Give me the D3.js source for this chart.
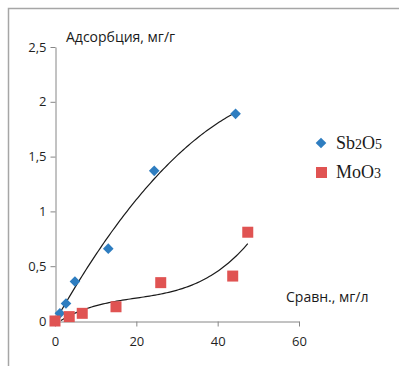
<!DOCTYPE html>
<html>
<head>
<meta charset="utf-8">
<script src="https://cdn.jsdelivr.net/npm/d3@7"></script>
<style>
  body { margin: 0; background: #fff; }
  svg { display: block; }
</style>
</head>
<body>
<div id="wrapper"></div>
<script>
const sbX = [0, 1.2, 2.7, 4.9, 13.1, 24.4, 44.4]
const sbY = [0, 0.07, 0.16, 0.36, 0.66, 1.37, 1.89]
const moX = [0, 3.5, 6.7, 15, 26, 43.7, 47.4]
const moY = [0, 0.04, 0.07, 0.13, 0.35, 0.41, 0.81]
const xTicks = [0, 20, 40, 60]
const yTicks = [0, 0.5, 1, 1.5, 2, 2.5]

const width = 399
const height = 366

// least squares polynomial, like an Excel trendline
function polyfit(xs, ys, order) {
    const n = order + 1
    const A = []
    for (let i = 0; i < n; i++) {
        A.push([])
        for (let j = 0; j <= n; j++) A[i].push(0)
    }
    xs.forEach((x, k) => {
        for (let i = 0; i < n; i++) {
            for (let j = 0; j < n; j++) A[i][j] += Math.pow(x, i + j)
            A[i][n] += ys[k] * Math.pow(x, i)
        }
    })
    for (let i = 0; i < n; i++) {
        let p = i
        for (let r = i + 1; r < n; r++) if (Math.abs(A[r][i]) > Math.abs(A[p][i])) p = r
        const t = A[i]; A[i] = A[p]; A[p] = t
        for (let r = 0; r < n; r++) {
            if (r === i) continue
            const f = A[r][i] / A[i][i]
            for (let c = i; c <= n; c++) A[r][c] -= f * A[i][c]
        }
    }
    const coef = A.map((row, i) => row[n] / row[i])
    return x => coef.reduce((s, c, i) => s + c * Math.pow(x, i), 0)
}

const svg = d3.select("#wrapper").append("svg").attr("width", width).attr("height", height)

// outer frame (only top and left visible)
svg.append("path")
    .attr("d", `M8.5,${height} L8.5,8.5 L${width},8.5`)
    .attr("fill", "none")
    .attr("stroke", "#a6a6a6")
    .attr("stroke-width", 1.5)

const x = d3.scaleLinear().domain([0, 60]).range([55, 299])
const y = d3.scaleLinear().domain([0, 2.5]).range([321, 47])

const axisColor = "#868686"
const font = "'Open Sans', sans-serif"

const yAxis = svg.append("g")
    .attr("transform", "translate(55.5,0)")
    .call(d3.axisLeft(y).tickValues(yTicks).tickSize(5).tickSizeOuter(0)
        .tickFormat(d => String(d).replace(".", ",")))
const xAxis = svg.append("g")
    .attr("transform", "translate(0,321.5)")
    .call(d3.axisBottom(x).tickValues(xTicks).tickSize(5).tickSizeOuter(0))

;[xAxis, yAxis].forEach(g => {
    g.select(".domain").attr("stroke", axisColor)
    g.selectAll(".tick line").attr("stroke", axisColor)
    g.selectAll("text").attr("fill", "#1f1f1f").style("font-family", font).style("font-size", "13px")
})
yAxis.selectAll("text").attr("x", -9)
xAxis.selectAll("text").attr("y", 15)

// trendlines
const sbFit = polyfit(sbX, sbY, 2)
const moFit = polyfit(moX, moY, 3)
const line = d3.line().x(d => x(d[0])).y(d => y(d[1]))

function trend(xs, fit) {
    const lo = d3.min(xs), hi = d3.max(xs)
    const pts = d3.range(0, 101).map(i => lo + (hi - lo) * i / 100)
        .map(v => [v, fit(v)]).filter(p => p[1] >= 0)
    svg.append("path").datum(pts)
        .attr("d", line)
        .attr("fill", "none")
        .attr("stroke", "#1a1a1a")
        .attr("stroke-width", 1.2)
}
trend(sbX, sbFit)
trend(moX, moFit)

// markers
const blue = "#2e7dc0"
const red = "#e05352"
const diamond = d3.symbol().type(d3.symbolDiamond2).size(72)

svg.append("g").selectAll("path").data(sbX.map((v, i) => [v, sbY[i]]))
    .enter().append("path")
    .attr("d", diamond)
    .attr("transform", d => `translate(${x(d[0])},${y(d[1])})`)
    .attr("fill", blue)

svg.append("g").selectAll("rect").data(moX.map((v, i) => [v, moY[i]]))
    .enter().append("rect")
    .attr("x", d => x(d[0]) - 5.5)
    .attr("y", d => y(d[1]) - 5.5)
    .attr("width", 11)
    .attr("height", 11)
    .attr("fill", red)

// axis titles
svg.append("text")
    .attr("x", 66).attr("y", 42)
    .text("Адсорбция, мг/г")
    .style("font-family", font).style("font-size", "14px").attr("fill", "#1a1a1a")
svg.append("text")
    .attr("x", 286).attr("y", 302)
    .text("Сравн., мг/л")
    .style("font-family", font).style("font-size", "14px").attr("fill", "#1a1a1a")

// legend
const legend = svg.append("g").style("font-family", "'Liberation Serif', 'Times New Roman', serif")
legend.append("path")
    .attr("d", diamond)
    .attr("transform", "translate(321,143)")
    .attr("fill", blue)
legend.append("rect").attr("x", 316).attr("y", 167).attr("width", 11).attr("height", 11).attr("fill", red)

function formula(yPos, parts) {
    const t = legend.append("text").attr("x", 336).attr("y", yPos).attr("fill", "#1a1a1a")
    parts.forEach(p => {
        t.append("tspan").text(p[0]).style("font-size", p[1] ? "14px" : "18px")
    })
}
formula(149, [["Sb", 0], ["2", 1], ["O", 0], ["5", 1]])
formula(178, [["MoO", 0], ["3", 1]])
</script>
</body>
</html>
